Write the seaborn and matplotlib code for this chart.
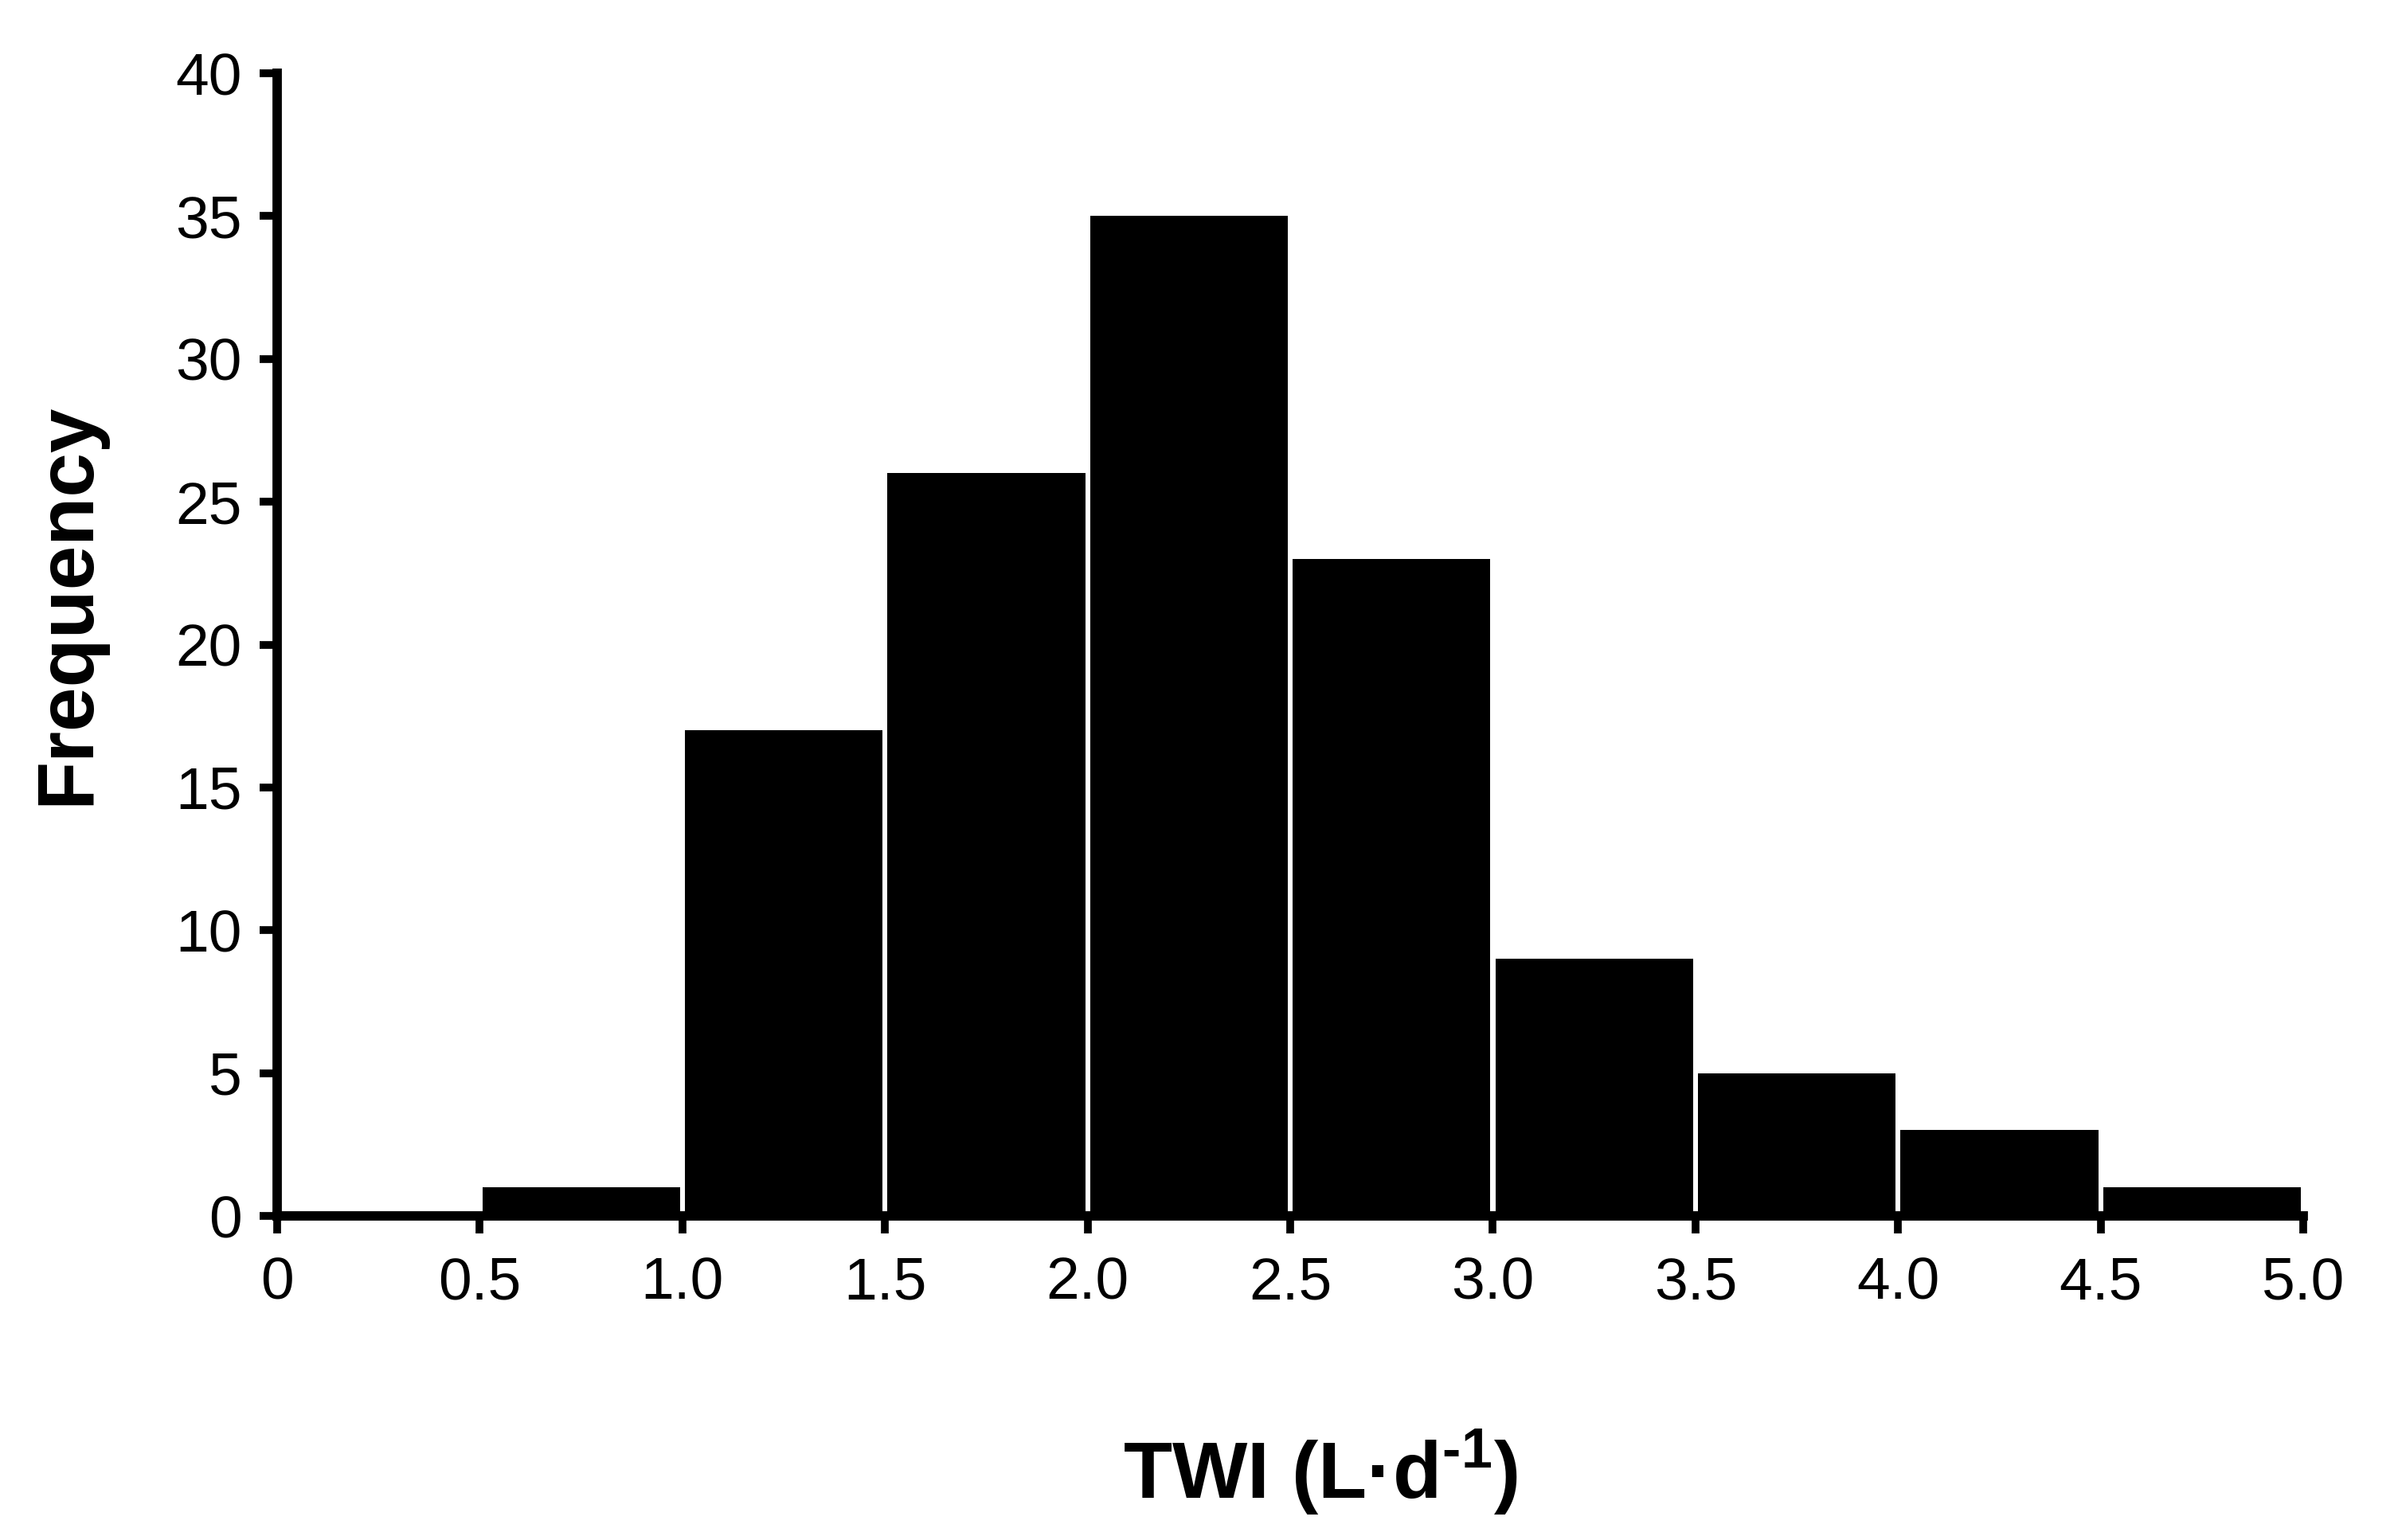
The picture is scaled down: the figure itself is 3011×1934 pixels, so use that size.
import matplotlib
matplotlib.use("Agg")
import matplotlib.pyplot as plt
import numpy as np
import seaborn as sns

# Data: TWI histogram, bins of 0.5 L/d
bin_edges = [0, 0.5, 1.0, 1.5, 2.0, 2.5, 3.0, 3.5, 4.0, 4.5, 5.0]
counts = [0, 1, 17, 26, 35, 23, 9, 5, 3, 1]
xtick_labels = ["0", "0.5", "1.0", "1.5", "2.0", "2.5", "3.0", "3.5", "4.0", "4.5", "5.0"]
ytick_values = [0, 5, 10, 15, 20, 25, 30, 35, 40]

sns.set_style("white")
plt.rcParams['font.family'] = ['Liberation Sans', 'DejaVu Sans']
plt.rcParams['text.color'] = 'black'
plt.rcParams['axes.labelcolor'] = 'black'
plt.rcParams['xtick.color'] = 'black'
plt.rcParams['ytick.color'] = 'black'
plt.rcParams['mathtext.fontset'] = 'custom'
plt.rcParams['mathtext.rm'] = 'Liberation Sans:bold'
plt.rcParams['mathtext.bf'] = 'Liberation Sans:bold'

fig = plt.figure(figsize=(30.11, 19.34), dpi=100)
ax = fig.add_axes([0.1156, 0.2104, 0.8449, 0.742])

centers = [(a + b) / 2 for a, b in zip(bin_edges[:-1], bin_edges[1:])]
sns.histplot(x=centers, weights=counts, bins=bin_edges, shrink=0.976,
             color="black", alpha=1, edgecolor="none", linewidth=0, ax=ax)

ax.set_xlim(0, 5)
ax.set_ylim(0, 40)
ax.set_xticks(bin_edges)
ax.set_xticklabels(xtick_labels)
ax.set_yticks(ytick_values)

for side in ["top", "right"]:
    ax.spines[side].set_visible(False)
for side in ["left", "bottom"]:
    ax.spines[side].set_linewidth(8.5)
    ax.spines[side].set_color("black")

# seaborn's white style hides ticks; turn them back on
ax.tick_params(axis="both", which="major", direction="out", length=16, width=7,
               labelsize=54, color="black", labelcolor="black",
               bottom=True, left=True)
ax.tick_params(axis="x", pad=20)
ax.tick_params(axis="y", pad=16)

ax.set_xlabel(r"TWI (L·d$^{\text{-1}}$)", fontsize=72, fontweight="bold")
ax.set_ylabel("Frequency", fontsize=72, fontweight="bold")
ax.xaxis.set_label_coords(0.515, -0.185)
ax.yaxis.set_label_coords(-0.085, 0.536)

fig.savefig("out.png", dpi=100)
